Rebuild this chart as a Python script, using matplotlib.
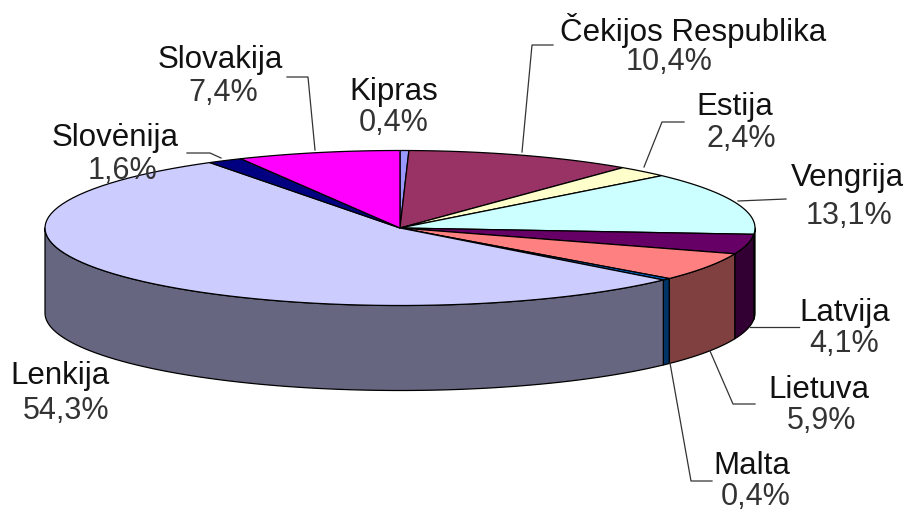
import numpy as np
import matplotlib
matplotlib.use("Agg")
import matplotlib.pyplot as plt
from matplotlib.patches import Polygon

# pie values, clockwise from 12 o'clock
names = ["Kipras", "Čekijos Respublika", "Estija", "Vengrija", "Latvija",
         "Lietuva", "Malta", "Lenkija", "Slovėnija", "Slovakija"]
values = [0.4, 10.4, 2.4, 13.1, 4.1, 5.9, 0.4, 54.3, 1.6, 7.4]
top_colors = ["#9999ff", "#993366", "#ffffcc", "#ccffff", "#660066",
              "#ff8080", "#0066cc", "#ccccff", "#000080", "#ff00ff"]
side_colors = ["#4d4d80", "#4d1a33", "#808066", "#668080", "#330033",
               "#804040", "#003366", "#666680", "#000040", "#800080"]
value_labels = ["0,4%", "10,4%", "2,4%", "13,1%", "4,1%", "5,9%", "0,4%", "54,3%", "1,6%", "7,4%"]
# label centres in pixels
name_x = [394, 693, 735, 847, 845, 819, 752, 60, 115, 220]
name_y = [92, 30, 107, 178, 313, 390, 466, 376, 138, 60]
value_x = [394, 669, 741, 849, 844, 822, 756, 66, 123, 223]
value_y = [123, 62, 139, 216, 344, 421, 497, 411, 171, 93]
# leader lines, pixels
leaders = [None,
           [(522, 152), (532, 45), (553, 45)],
           [(644, 167), (662, 122), (684, 122)],
           [(738, 201), (786, 199)],
           [(750, 327), (799, 327)],
           [(710, 351), (733, 404), (755, 404)],
           [(670, 363), (691, 481), (712, 481)],
           None,
           [(221, 158), (210, 153), (187, 153)],
           [(315, 150), (308, 77), (287, 77)]]

cx, cy, rx, ry, depth = 400, 228, 355, 77.5, 85


def rim(a0, a1):
    # points on the ellipse, angles clockwise from the top
    t = np.radians(np.linspace(a0, a1, 80))
    return np.column_stack([cx + rx * np.sin(t), cy - ry * np.cos(t)])


fig = plt.figure(figsize=(9.08, 5.13), dpi=100)
ax = fig.add_axes([0, 0, 1, 1])
ax.set_xlim(0, 908)
ax.set_ylim(513, 0)
ax.axis("off")

edges = np.concatenate([[0], np.cumsum(values)]) / sum(values) * 360

# side wall first, only the front half is visible
for i in range(len(values)):
    a0, a1 = max(edges[i], 90), min(edges[i + 1], 270)
    if a1 <= a0:
        continue
    p = rim(a0, a1)
    wall = np.vstack([p, (p + [0, depth])[::-1]])
    ax.add_patch(Polygon(wall, fc=side_colors[i], ec="black", lw=0.9, joinstyle="round"))

# top face
for i in range(len(values)):
    face = np.vstack([[(cx, cy)], rim(edges[i], edges[i + 1])])
    ax.add_patch(Polygon(face, fc=top_colors[i], ec="black", lw=0.9, joinstyle="round"))

for line in leaders:
    if line is not None:
        xs, ys = zip(*line)
        ax.plot(xs, ys, color="#333333", lw=0.9)

for i in range(len(names)):
    ax.text(name_x[i], name_y[i], names[i], ha="center", va="center", fontsize=22.5,
            family="Liberation Sans", color="#111111")
    ax.text(value_x[i], value_y[i], value_labels[i], ha="center", va="center", fontsize=22,
            family="Liberation Sans", color="#333333")

fig.savefig("out.png", dpi=100)
